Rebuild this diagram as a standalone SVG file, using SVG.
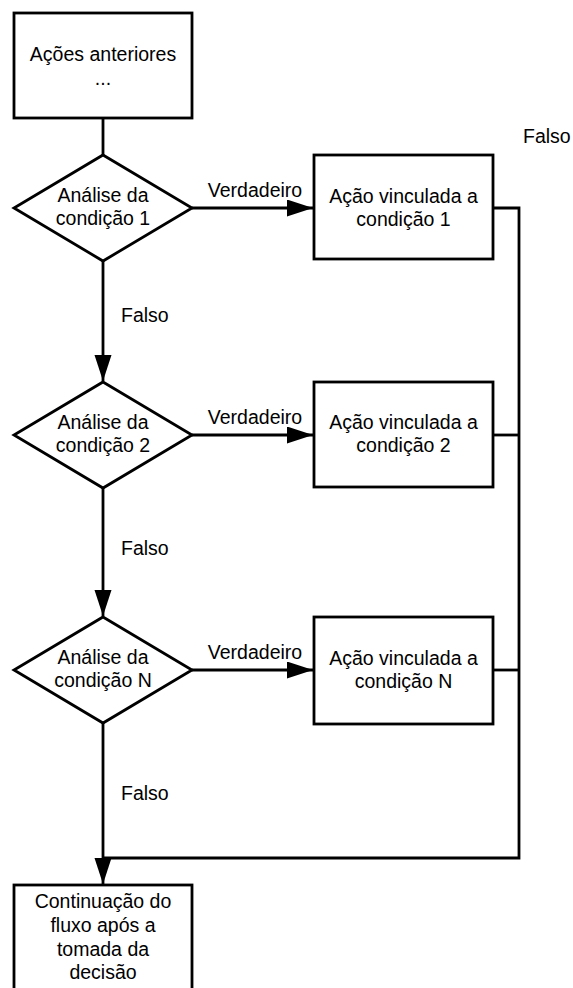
<svg xmlns="http://www.w3.org/2000/svg" width="573" height="988" viewBox="0 0 573 988">
<style>
.shape{fill:#fff;stroke:#000;stroke-width:2.8;stroke-linejoin:miter}
.conn{fill:none;stroke:#000;stroke-width:2.8}
text{font-family:"Liberation Sans",Arial,sans-serif;font-size:19.5px;fill:#000}
.c{text-anchor:middle}
</style>
<defs>
<marker id="arr" markerUnits="userSpaceOnUse" markerWidth="28" markerHeight="20" refX="26" refY="8.5" orient="auto">
<path d="M0,0 L26,8.5 L0,17 Z" fill="#000"/>
</marker>
</defs>
<rect width="573" height="988" fill="#fff"/>
<g id="connectors">
<line class="conn" x1="103" y1="118" x2="103" y2="155"/>
<line class="conn" x1="103" y1="261" x2="103" y2="381" marker-end="url(#arr)"/>
<line class="conn" x1="103" y1="488" x2="103" y2="616" marker-end="url(#arr)"/>
<line class="conn" x1="103" y1="723" x2="103" y2="884" marker-end="url(#arr)"/>
<line class="conn" x1="192" y1="208" x2="313" y2="208" marker-end="url(#arr)"/>
<line class="conn" x1="192" y1="435" x2="313" y2="435" marker-end="url(#arr)"/>
<line class="conn" x1="192" y1="670" x2="313" y2="670" marker-end="url(#arr)"/>
<polyline class="conn" points="493,208 519,208 519,858 103,858"/>
<line class="conn" x1="493" y1="435" x2="519" y2="435"/>
<line class="conn" x1="493" y1="670" x2="519" y2="670"/>
<text class="c" x="255" y="197">Verdadeiro</text>
<text class="c" x="255" y="424">Verdadeiro</text>
<text class="c" x="255" y="659">Verdadeiro</text>
<text x="121" y="322">Falso</text>
<text x="121" y="555">Falso</text>
<text x="121" y="800">Falso</text>
<text x="523" y="143">Falso</text>
</g>
<g id="start">
<rect class="shape" x="14" y="13" width="178" height="105"/>
<text class="c" x="103" y="61">Ações anteriores</text>
<text class="c" x="103" y="85">...</text>
</g>
<g id="cond1">
<polygon class="shape" points="103,155 192,208 103,261 14,208"/>
<text class="c" x="103" y="202">Análise da</text>
<text class="c" x="103" y="225">condição 1</text>
</g>
<g id="acao1">
<rect class="shape" x="314" y="155" width="179" height="104"/>
<text class="c" x="403.5" y="203">Ação vinculada a</text>
<text class="c" x="403.5" y="226">condição 1</text>
</g>
<g id="cond2">
<polygon class="shape" points="103,382 192,435 103,488 14,435"/>
<text class="c" x="103" y="429">Análise da</text>
<text class="c" x="103" y="452">condição 2</text>
</g>
<g id="acao2">
<rect class="shape" x="314" y="382" width="179" height="105"/>
<text class="c" x="403.5" y="429">Ação vinculada a</text>
<text class="c" x="403.5" y="452">condição 2</text>
</g>
<g id="condN">
<polygon class="shape" points="103,617 192,670 103,723 14,670"/>
<text class="c" x="103" y="664">Análise da</text>
<text class="c" x="103" y="687">condição N</text>
</g>
<g id="acaoN">
<rect class="shape" x="314" y="617" width="179" height="107"/>
<text class="c" x="403.5" y="665">Ação vinculada a</text>
<text class="c" x="403.5" y="688">condição N</text>
</g>
<g id="fim">
<rect class="shape" x="14" y="885" width="178" height="120"/>
<text class="c" x="103" y="908">Continuação do</text>
<text class="c" x="103" y="932">fluxo após a</text>
<text class="c" x="103" y="956">tomada da</text>
<text class="c" x="103" y="979">decisão</text>
</g>
</svg>
